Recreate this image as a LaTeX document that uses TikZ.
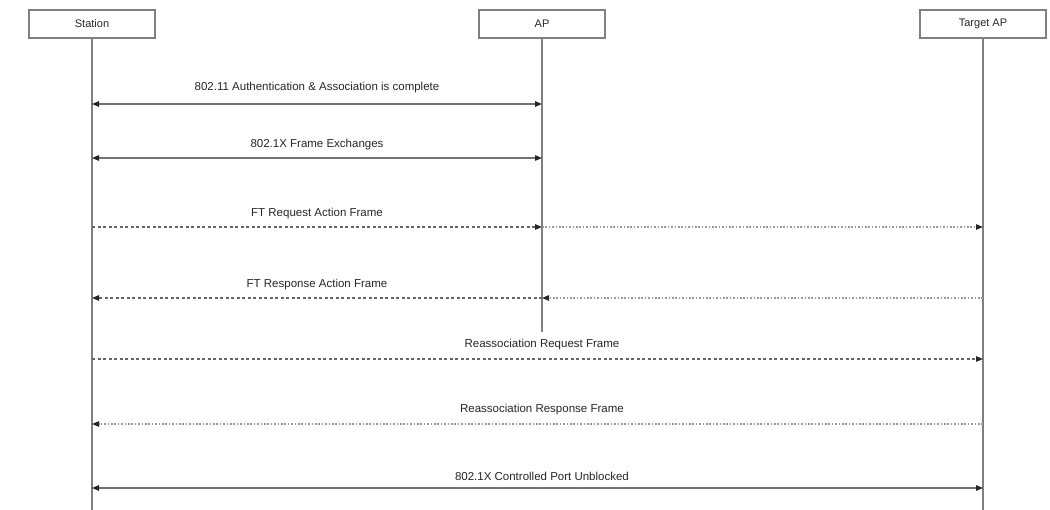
\documentclass[tikz,border=0pt]{standalone}
\usepackage{fontspec}
\setmainfont{Liberation Sans}
\usetikzlibrary{arrows.meta}
\begin{document}
\begin{tikzpicture}[x=1pt,y=-1pt,
  actor/.style={draw=black!50, line width=1.2pt, minimum width=126pt,
    minimum height=28pt, inner sep=0pt, font=\fontsize{11}{13}\selectfont, text=black!85},
  life/.style={draw=black!50, line width=1.2pt},
  msg/.style={draw=black!55, line width=1.2pt},
  both/.style={{Triangle[length=7pt,width=5.5pt,color=black!85]}-{Triangle[length=7pt,width=5.5pt,color=black!85]}},
  tip/.style={-{Triangle[length=7pt,width=5.5pt,color=black!85]}},
  dashmsg/.style={draw=black!60, line width=1.1pt, dash pattern=on 3pt off 2.5pt},
  dotmsg/.style={draw=black!40, line width=1.1pt, dash pattern=on 1.6pt off 1.8pt},
  lbl/.style={font=\fontsize{11.5}{13}\selectfont, text=black!85}
]
\useasboundingbox (0,0) rectangle (1050,510);

% participants
\node[actor] (station) at (92,24) {Station};
\node[actor] (ap)      at (542,24) {AP};
\node[actor] (target)  at (983,24) {Target AP};

% lifeline ends
\coordinate (stationEnd) at (92,510);
\coordinate (apEnd)      at (542,332);
\coordinate (targetEnd)  at (983,510);

\draw[life] (station.south) -- (stationEnd);
\draw[life] (ap.south) -- (apEnd);
\draw[life] (target.south) -- (targetEnd);

% message anchor points on the lifelines
\coordinate (s1) at (92,104);  \coordinate (a1) at (542,104);
\coordinate (s2) at (92,158);  \coordinate (a2) at (542,158);
\coordinate (s3) at (92,227);  \coordinate (a3) at (542,227); \coordinate (t3) at (983,227);
\coordinate (s4) at (92,298);  \coordinate (a4) at (542,298); \coordinate (t4) at (983,298);
\coordinate (s5) at (92,359);  \coordinate (t5) at (983,359);
\coordinate (s6) at (92,424);  \coordinate (t6) at (983,424);
\coordinate (s7) at (92,488);  \coordinate (t7) at (983,488);

% messages
\draw[msg,both] (s1) -- node[lbl,midway,yshift=16pt] {802.11 Authentication \& Association is complete} (a1);
\draw[msg,both] (s2) -- node[lbl,midway,yshift=13pt] {802.1X Frame Exchanges} (a2);

\draw[dashmsg,tip] (s3) -- node[lbl,midway,yshift=13pt] {FT Request Action Frame} (a3);
\draw[dotmsg,tip] (a3) -- (t3);

\draw[dotmsg,tip] (t4) -- (a4);
\draw[dashmsg,tip] (a4) -- node[lbl,midway,yshift=13pt] {FT Response Action Frame} (s4);

\draw[dashmsg,tip] (s5) -- node[lbl,pos=0.505,yshift=14pt] {Reassociation Request Frame} (t5);
\draw[dotmsg,tip] (t6) -- node[lbl,pos=0.495,yshift=14pt] {Reassociation Response Frame} (s6);

\draw[msg,both] (s7) -- node[lbl,pos=0.505,yshift=12pt] {802.1X Controlled Port Unblocked} (t7);
\end{tikzpicture}
\end{document}
